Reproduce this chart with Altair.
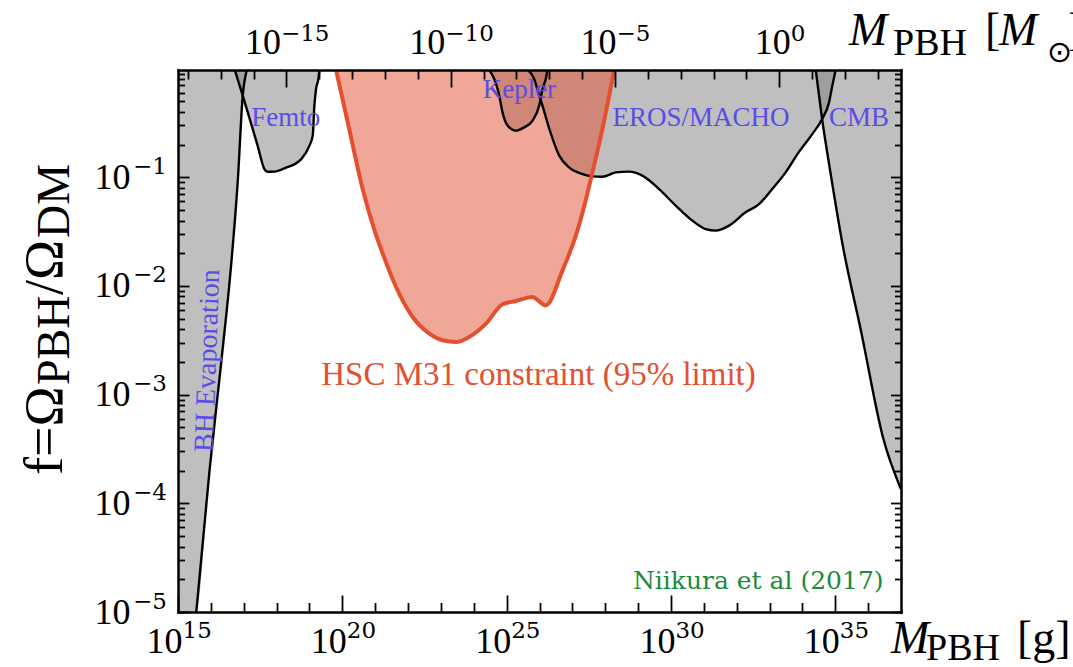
import altair as alt
import pandas as pd

MSUN_G = 1.989e33
M_RANGE = [1e15, 1e37]
F_RANGE = [1e-5, 0.97]

# Boundaries of the excluded regions, as log10(M / g) and log10(f)
BH_EVAP_LOGM = [15.556, 15.96, 16.30, 16.62, 16.82, 16.97, 17.11]
BH_EVAP_LOGF = [-5.0, -3.696, -2.746, -1.795, -1.029, -0.249, 0.0]

FEMTO_LOGM = [16.715, 16.97, 17.23, 17.42, 17.63, 17.72, 17.94, 18.24, 18.75, 19.0, 19.10, 19.15, 19.20, 19.27, 19.31]
FEMTO_LOGF = [0.0, -0.249, -0.511, -0.707, -0.925, -0.950, -0.948, -0.918, -0.833, -0.709, -0.617, -0.341, -0.189, -0.097, 0.0]

KEPLER_LOGM = [24.445, 24.775, 24.875, 25.03, 25.28, 25.535, 25.79, 25.99, 26.09, 26.19, 26.25]
KEPLER_LOGF = [0.0, -0.249, -0.403, -0.525, -0.571, -0.541, -0.479, -0.341, -0.189, -0.097, 0.0]

EROS_LOGM = [25.58, 25.84, 25.99, 26.09, 26.30, 26.60, 26.90, 27.31, 27.61, 27.915, 28.32, 28.725,
             29.13, 29.64, 30.145, 30.65, 31.06, 31.36, 31.77, 32.27, 32.68, 33.08, 33.49, 33.89,
             34.30, 34.60, 34.81, 34.91, 35.02]
EROS_LOGF = [0.0, -0.097, -0.249, -0.341, -0.556, -0.801, -0.909, -0.971, -0.992, -0.996, -0.955, -0.948,
             -0.985, -1.109, -1.261, -1.399, -1.477, -1.491, -1.445, -1.323, -1.247, -1.109, -0.955, -0.769,
             -0.603, -0.465, -0.311, -0.157, 0.0]

CMB_LOGM = [34.40, 34.60, 34.865, 35.21, 35.78, 36.475, 37.0]
CMB_LOGF = [0.0, -0.465, -0.978, -1.599, -2.41, -3.42, -3.87]

HSC_LOGM = [19.80, 20.21, 20.62, 20.98, 21.23, 21.635, 22.14, 22.65, 23.05, 23.46, 23.86, 24.37,
            24.875, 25.28, 25.79, 25.89, 26.19, 26.70, 27.155, 27.31, 27.61, 27.915, 28.12, 28.28]
HSC_LOGF = [0.0, -0.556, -1.109, -1.489, -1.703, -2.010, -2.286, -2.439, -2.500, -2.516, -2.470, -2.347,
            -2.169, -2.139, -2.102, -2.117, -2.178, -1.857, -1.489, -1.323, -0.955, -0.556, -0.249, 0.0]

# Region labels placed in data coordinates
LABEL_TEXT = ["Femto", "Kepler", "EROS/MACHO", "CMB"]
LABEL_LOGM = [17.23, 24.27, 28.22, 34.81]
LABEL_LOGF = [-0.525, -0.274, -0.525, -0.525]
BH_LABEL = ("BH Evaporation", 16.06, -3.53)
HSC_LABEL = ("HSC M31 constraint (95% limit)", 19.36, -2.914)
CREDIT_LABEL = ("Niikura et al (2017)", 36.47, -4.785)

# Tick positions
X_MAJOR = [1e15, 1e20, 1e25, 1e30, 1e35]
X_MINOR = [10.0 ** k for k in range(16, 37) if k % 5 != 0]
MSUN_MAJOR = [1e-15, 1e-10, 1e-5, 1.0]
MSUN_MINOR = [10.0 ** k for k in range(-18, 4) if k % 5 != 0]
Y_MAJOR = [1e-5, 1e-4, 1e-3, 1e-2, 1e-1]
Y_MINOR = [m * 10.0 ** k for k in range(-5, 0) for m in range(2, 10)]

GRAY = "#7f7f7f"
RED = "#e4502f"
BLUE = "#5a4de6"
GREEN = "#1a8c3c"

W, H = 723, 542
ORIGIN_X, ORIGIN_Y = 178, 70


def curve(logm, logf, region):
    return pd.DataFrame({"region": region,
                         "M": [10.0 ** v for v in logm],
                         "f": [10.0 ** v for v in logf],
                         "top": F_RANGE[1]})


gray_fill = pd.concat([
    curve([15.0] + BH_EVAP_LOGM, [-5.0] + BH_EVAP_LOGF, "bh"),
    curve(FEMTO_LOGM, FEMTO_LOGF, "femto"),
    curve(KEPLER_LOGM, KEPLER_LOGF, "kepler"),
    curve(EROS_LOGM, EROS_LOGF, "eros"),
    curve(CMB_LOGM, CMB_LOGF, "cmb"),
])
gray_lines = pd.concat([
    curve(BH_EVAP_LOGM, BH_EVAP_LOGF, "bh"),
    curve(FEMTO_LOGM, FEMTO_LOGF, "femto"),
    curve(KEPLER_LOGM, KEPLER_LOGF, "kepler"),
    curve(EROS_LOGM, EROS_LOGF, "eros"),
    curve(CMB_LOGM, CMB_LOGF, "cmb"),
])
hsc = curve(HSC_LOGM, HSC_LOGF, "hsc")
labels = pd.DataFrame({"label": LABEL_TEXT,
                       "M": [10.0 ** v for v in LABEL_LOGM],
                       "f": [10.0 ** v for v in LABEL_LOGF]})

xg = alt.Scale(type="log", domain=M_RANGE, nice=False)
xs = alt.Scale(type="log", domain=[M_RANGE[0] / MSUN_G, M_RANGE[1] / MSUN_G], nice=False)
yf = alt.Scale(type="log", domain=F_RANGE, nice=False)

FRAME = dict(domain=True, domainColor="black", domainWidth=2.5, domainCap="square")
NOLAB = dict(labelFlush=False, labelOverlap=False, grid=False, zindex=1)


def tick_axis(orient, values, size):
    return alt.Axis(orient=orient, values=values, labels=False, domain=False, ticks=True,
                    tickSize=size, tickWidth=1.8, tickColor="black", offset=-size,
                    grid=False, zindex=1)


def base_axis(orient, values, **kw):
    return alt.Axis(orient=orient, values=values, labelExpr="'10'", ticks=False,
                    labelFont="Liberation Serif", labelFontSize=36, labelColor="black",
                    labelBaseline="alphabetic", **FRAME, **NOLAB, **kw)


def exp_axis(orient, values, **kw):
    return alt.Axis(orient=orient, values=values, ticks=False, domain=False,
                    labelExpr="replace('' + round(log(datum.value) / LN10), '-', '\u2212')",
                    labelFont="DejaVu Serif", labelFontSize=23, labelColor="black",
                    labelBaseline="alphabetic", **NOLAB, **kw)


def X(axis, scale=xg, field="M"):
    return alt.X(f"{field}:Q", scale=scale, axis=axis, title=None)


def Y(axis):
    return alt.Y("f:Q", scale=yf, axis=axis, title=None)


layers = []

# excluded regions (gray) and their outlines
layers.append(alt.Chart(gray_fill).mark_area(
    color=GRAY, opacity=0.5, clip=True, interpolate="monotone").encode(
    x=X(base_axis("bottom", X_MAJOR, labelPadding=40, labelOffset=-14)),
    y=Y(base_axis("left", Y_MAJOR, labelAlign="right", labelPadding=48, labelOffset=11)),
    y2="top:Q", detail="region:N"))

layers.append(alt.Chart(hsc).mark_area(
    color=RED, opacity=0.5, clip=True, interpolate="monotone").encode(
    x=X(exp_axis("bottom", X_MAJOR, labelAlign="left", labelPadding=25, labelOffset=4)),
    y=Y(exp_axis("left", Y_MAJOR, labelAlign="right", labelPadding=11.5, labelOffset=-4)),
    y2="top:Q"))

layers.append(alt.Chart(gray_lines).mark_line(
    color="black", strokeWidth=2.4, clip=True, interpolate="monotone").encode(
    x=X(tick_axis("bottom", X_MAJOR, 17)),
    y=Y(tick_axis("left", Y_MAJOR, 11)),
    detail="region:N"))

layers.append(alt.Chart(hsc).mark_line(
    color=RED, strokeWidth=4, clip=True, interpolate="monotone").encode(
    x=X(tick_axis("bottom", X_MINOR, 9.5)),
    y=Y(tick_axis("left", Y_MINOR, 6.5))))

layers.append(alt.Chart(labels).mark_text(
    align="left", baseline="alphabetic", font="Liberation Serif", fontSize=27, color=BLUE).encode(
    x=X(None),
    y=Y(alt.Axis(orient="right", values=Y_MAJOR, ticks=False, labels=False, **FRAME, **NOLAB)),
    text="label:N"))


def single_label(spec, **mark):
    text, logm, logf = spec
    df = pd.DataFrame({"label": [text], "M": [10.0 ** logm], "f": [10.0 ** logf]})
    return alt.Chart(df).mark_text(baseline="alphabetic", **mark)


layers.append(single_label(BH_LABEL, align="left", angle=272, font="Liberation Serif",
                           fontSize=28, color=BLUE).encode(
    x=X(None), y=Y(tick_axis("right", Y_MAJOR, 10.5)), text="label:N"))
layers.append(single_label(HSC_LABEL, align="left", font="Liberation Serif",
                           fontSize=33, color=RED).encode(
    x=X(None), y=Y(tick_axis("right", Y_MINOR, 6.5)), text="label:N"))
layers.append(single_label(CREDIT_LABEL, align="right", font="DejaVu Serif",
                           fontSize=25, color=GREEN).encode(
    x=X(None), y=Y(None), text="label:N"))

# top axis in solar masses
top_ticks = pd.DataFrame({"Msun": MSUN_MAJOR})
top_base_offset = {"condition": [{"test": "datum.value < 1e-7", "value": -24},
                                 {"test": "datum.value < 1e-2", "value": -17}], "value": -7}
top_exp_offset = {"condition": [{"test": "datum.value < 1e-7", "value": -6},
                                {"test": "datum.value < 1e-2", "value": 1}], "value": 11}
for axis in [
    base_axis("top", MSUN_MAJOR, labelPadding=16.5, labelOffset=top_base_offset),
    exp_axis("top", MSUN_MAJOR, labelAlign="left", labelPadding=30, labelOffset=top_exp_offset),
    tick_axis("top", MSUN_MAJOR, 17),
    tick_axis("top", MSUN_MINOR, 9),
]:
    layers.append(alt.Chart(top_ticks).mark_point(opacity=0).encode(
        x=X(axis, scale=xs, field="Msun"), y=alt.value(0)))


# axis titles, placed in pixels around the frame
def piece(text, x_abs, y_abs, size, font="Liberation Serif", style="normal", angle=0):
    return alt.Chart(alt.Data(values=[{"k": 0}])).mark_text(
        text=text, align="left", baseline="alphabetic", font=font, fontSize=size,
        fontStyle=style, angle=angle, color="black").encode(
        x=alt.value(x_abs - ORIGIN_X), y=alt.value(y_abs - ORIGIN_Y))


layers += [
    piece("M", 891, 653, 46, style="italic"),
    piece("PBH", 926, 660, 38),
    piece("[g]", 1017, 653, 46),
    piece("M", 849, 45, 46, style="italic"),
    piece("PBH", 893, 55, 38),
    piece("[", 985, 45, 46),
    piece("M", 999, 45, 46, style="italic"),
    piece("\u2299", 1047, 62, 30, font="DejaVu Sans"),
    piece("]", 1068, 45, 46),
    piece("f=\u03a9", 62, 475, 54, angle=270),
    piece("PBH", 69, 385, 46, angle=270),
    piece("/\u03a9", 62, 295, 54, angle=270),
    piece("DM", 69, 238, 46, angle=270),
]

chart = alt.layer(*layers).resolve_scale(x="independent", y="independent").properties(
    width=W, height=H, autosize=alt.AutoSizeParams(type="none"),
    padding={"left": ORIGIN_X, "top": ORIGIN_Y, "right": 1073 - ORIGIN_X - W, "bottom": 667 - ORIGIN_Y - H},
    background="white",
).configure_view(strokeWidth=0)

chart.save("out.html", embed_options={"renderer": "svg", "actions": False})
